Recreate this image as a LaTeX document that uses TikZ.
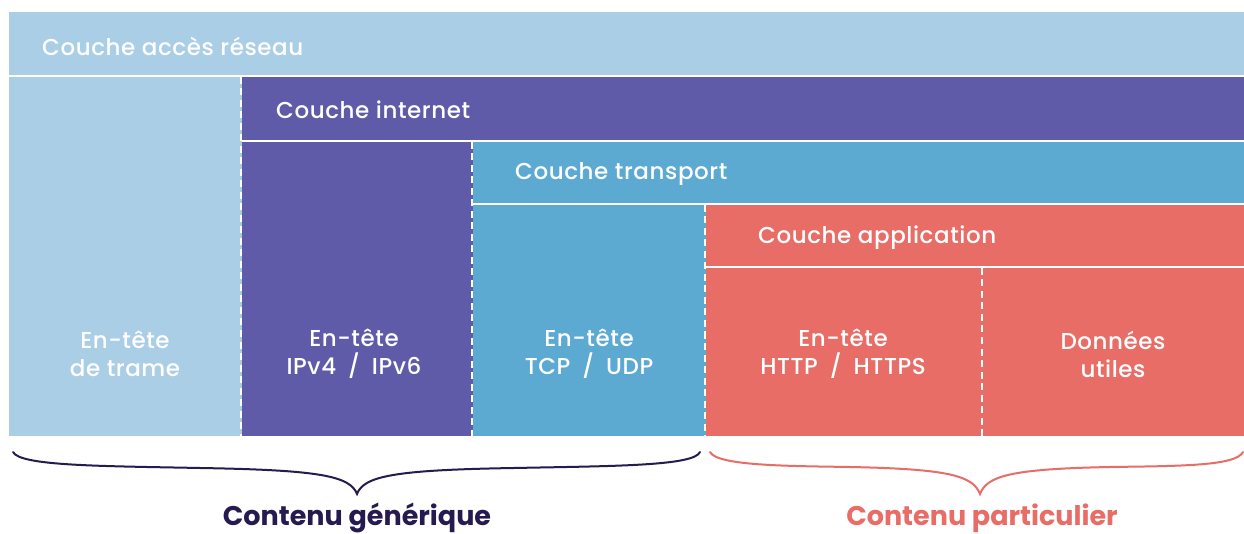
\documentclass[tikz,border=0pt]{standalone}
\usepackage{fontspec}
\setmainfont{Poppins}[UprightFont=* Medium, BoldFont=* Bold]
\definecolor{lb}{HTML}{ABCEE7}
\definecolor{pu}{HTML}{605BA8}
\definecolor{mb}{HTML}{5CA9D2}
\definecolor{sa}{HTML}{E76D66}
\definecolor{nv}{HTML}{261A4F}
\newcommand{\myslash}{\hspace{12pt}/\hspace{12pt}}
\tikzset{
  gap/.style={white, line width=2.2pt},
  sepline/.style={white, line width=2pt, dash pattern=on 7pt off 4.5pt},
  lbl/.style={text=white, font=\fontsize{23}{28}\selectfont\addfontfeatures{LetterSpace=2.5}, inner sep=0pt},
  col/.style={lbl, align=center},
  brace/.style={line width=2pt, line cap=round},
  big/.style={font=\fontsize{27}{28}\selectfont\bfseries, inner sep=0pt}
}
\begin{document}
\begin{tikzpicture}[x=1pt,y=-1pt]
\useasboundingbox (0,0) rectangle (1244,534);
\fill[white] (0,0) rectangle (1244,534);
\fill[lb] (9,12) rectangle (1244,436);
\fill[pu] (242,77) rectangle (1244,436);
\fill[mb] (473,142) rectangle (1244,436);
\fill[sa] (706,205) rectangle (1244,436);
\draw[gap] (9,75.8) -- (1244,75.8);
\draw[gap] (242,140.8) -- (1244,140.8);
\draw[gap] (473,204) -- (1244,204);
\draw[gap] (706,267) -- (1244,267);
\draw[sepline] (241,77) -- (241,436);
\draw[sepline] (472,142) -- (472,436);
\draw[sepline] (705,205) -- (705,436);
\draw[sepline] (982,268) -- (982,436);
\node[lbl, anchor=west] (acc) at (42,46) {Couche accès réseau};
\node[lbl, anchor=west] (int) at (276,110) {Couche internet};
\node[lbl, anchor=west] (tra) at (515,174) {Couche transport};
\node[lbl, anchor=west] (app) at (758,238) {Couche application};
\node[col] (c1) at (125,354) {En-tête\\de trame};
\node[col] (c2) at (354,354) {En-tête\\IPv4\myslash IPv6};
\node[col] (c3) at (589,354) {En-tête\\TCP\myslash UDP};
\node[col] (c4) at (843,354) {En-tête\\HTTP\myslash HTTPS};
\node[col] (c5) at (1113,354) {Données\\utiles};
\draw[brace, nv] (13,452) .. controls (20,466) and (100,466) .. (200,468)
  .. controls (320,470) and (350,476) .. (357,494)
  .. controls (364,476) and (394,470) .. (514,468)
  .. controls (614,466) and (694,466) .. (700,452);
\draw[brace, sa] (710,452) .. controls (717,466) and (790,466) .. (850,467)
  .. controls (950,469) and (973,476) .. (980,494)
  .. controls (987,476) and (1010,469) .. (1110,467)
  .. controls (1180,466) and (1236,466) .. (1243,452);
\node[big, text=nv] (gen) at (357,518) {Contenu générique};
\node[big, text=sa] (par) at (982,518) {Contenu particulier};
\end{tikzpicture}
\end{document}
